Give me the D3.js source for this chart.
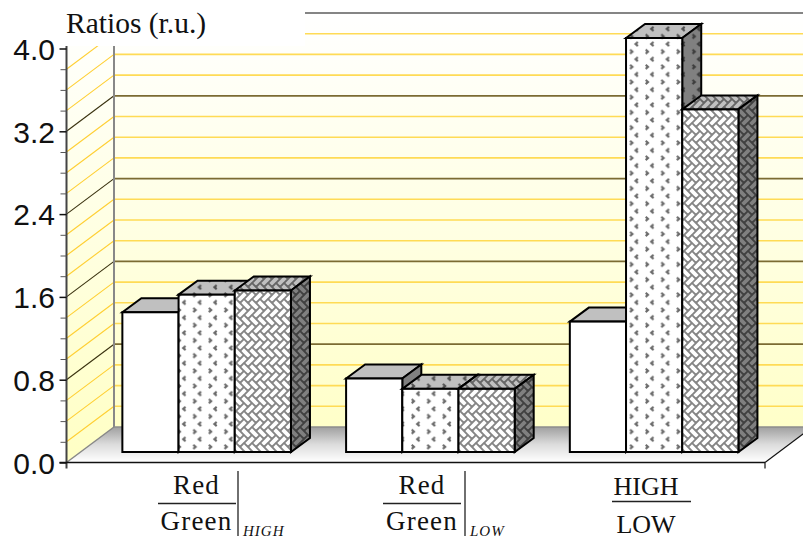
<!DOCTYPE html>
<html>
<head>
<meta charset="utf-8">
<script src="https://cdnjs.cloudflare.com/ajax/libs/d3/7.9.0/d3.min.js"></script>
<style>
html,body{margin:0;padding:0;background:#fff;overflow:hidden}
svg{display:block}
text{fill:#111}
.serif{font-family:"Liberation Serif","Times New Roman",serif}
.sans{font-family:"Liberation Sans",Arial,sans-serif}
</style>
</head>
<body>
<svg id="chart" width="803" height="538"></svg>
<script>
// Chart data
const groups = ["RedGreenHigh", "RedGreenLow", "HighLow"];
const seriesNames = ["plain", "dots", "weave"];
const plainValues = [1.35, 0.71, 1.26];
const dotValues = [1.52, 0.61, 4.0];
const weaveValues = [1.56, 0.61, 3.31];
const majorTicks = [0, 0.8, 1.6, 2.4, 3.2, 4.0];
const minorTicks = [0, 0.2, 0.4, 0.6, 0.8, 1.0, 1.2, 1.4, 1.6, 1.8, 2.0, 2.2, 2.4, 2.6, 2.8, 3.0, 3.2, 3.4, 3.6, 3.8, 4.0];
const seriesValues = [plainValues, dotValues, weaveValues];

const W = 803, H = 538;
const svg = d3.select("#chart");
const defs = svg.append("defs");

// Scales and the oblique projection of the 3D box
const y = d3.scaleLinear().domain([0, 4]).range([462.5, 48.5]);
const frontLeft = 66.5, frontRight = 765;
const depthX = 47.5, depthY = 35.5;
const barLift = 10.5, barDX = 19, barDY = 14;
const x0 = d3.scaleBand().domain(groups).range([94.8, 766]);
const x1 = d3.scaleBand().domain(seriesNames).range([0, 168.6]);
const inset = (x0.bandwidth() - x1.step() * 3) / 2;

// Gradients for walls and floor
const wallGrad = defs.append("linearGradient").attr("id", "wall")
  .attr("gradientUnits", "userSpaceOnUse")
  .attr("x1", 0).attr("x2", 0).attr("y1", 13).attr("y2", 462);
wallGrad.append("stop").attr("offset", 0).attr("stop-color", "#ffffff");
wallGrad.append("stop").attr("offset", 1).attr("stop-color", "#ffffc4");
const floorGrad = defs.append("linearGradient").attr("id", "floor")
  .attr("gradientUnits", "userSpaceOnUse")
  .attr("x1", 0).attr("x2", 0).attr("y1", 427).attr("y2", 462);
floorGrad.append("stop").attr("offset", 0).attr("stop-color", "#a0a0a0");
floorGrad.append("stop").attr("offset", 0.5).attr("stop-color", "#dcdcdc");
floorGrad.append("stop").attr("offset", 1).attr("stop-color", "#ffffff");

// Hatch fills: one tile per series, shaded for each visible face
function dotsTile(id, bg, ink) {
  const p = defs.append("pattern").attr("id", id).attr("patternUnits", "userSpaceOnUse")
    .attr("x", 178).attr("y", 330).attr("width", 15.6).attr("height", 15.2);
  p.append("rect").attr("width", 15.6).attr("height", 15.2).attr("fill", bg);
  p.append("path").attr("d", "M7.5 0.8 L5.2 2.8 L7.5 4.8 M15.3 8.4 L17.6 10.4 L15.3 12.4 M-0.3 8.4 L2 10.4 L-0.3 12.4")
    .attr("fill", "none").attr("stroke", ink).attr("stroke-width", 2.1);
}
// Herringbone of 2:1 bricks laid at 45 degrees, repeating as a rectangular tile
function weaveTile(id, bg, ink) {
  const tileH = 16, unit = tileH / (2 * Math.SQRT2), tileW = unit * Math.SQRT2;
  const project = ([a, b]) => [(a + b) * unit / Math.SQRT2, (b - a) * unit / Math.SQRT2];
  const hBrick = [[0, 0], [2, 0], [2, 1], [0, 1]];
  const vBrick = [[2, -1], [3, -1], [3, 1], [2, 1]];
  const line = d3.line();
  let d = "";
  for (let i = -6; i <= 6; i++) {
    for (let j = -4; j <= 4; j++) {
      const dx = i + 2 * j, dy = i - 2 * j;
      [hBrick, vBrick].forEach(brick => {
        d += line(brick.map(([a, b]) => project([a + dx, b + dy]))) + "Z";
      });
    }
  }
  const p = defs.append("pattern").attr("id", id).attr("patternUnits", "userSpaceOnUse")
    .attr("x", 236).attr("y", 331).attr("width", tileW).attr("height", tileH);
  p.append("rect").attr("width", tileW).attr("height", tileH).attr("fill", bg);
  p.append("path").attr("d", d).attr("fill", "none").attr("stroke", ink).attr("stroke-width", 1.9);
}
dotsTile("dotsFront", "#ffffff", "#6a6a6a");
dotsTile("dotsTop", "#c0c0c0", "#505050");
dotsTile("dotsSide", "#808080", "#3c3c3c");
weaveTile("weaveFront", "#ffffff", "#858585");
weaveTile("weaveTop", "#c0c0c0", "#666666");
weaveTile("weaveSide", "#808080", "#404040");

const faces = {
  plain: {front: "#ffffff", top: "#c0c0c0", side: "#808080"},
  dots: {front: "url(#dotsFront)", top: "url(#dotsTop)", side: "url(#dotsSide)"},
  weave: {front: "url(#weaveFront)", top: "url(#weaveTop)", side: "url(#weaveSide)"}
};

// Back wall, side wall, floor
const clipTop = 46;
svg.append("path").attr("fill", "url(#wall)")
  .attr("d", `M${frontLeft + depthX} ${y(0) - depthY}V${y(4) - depthY}H${W}V${y(0) - depthY}Z`);
svg.append("path").attr("fill", "url(#wall)")
  .attr("d", `M${frontLeft} ${y(0)}L${frontLeft + depthX} ${y(0) - depthY}V${clipTop}H${frontLeft}Z`);
svg.append("path").attr("fill", "url(#floor)")
  .attr("d", `M${frontLeft} ${y(0)}L${frontLeft + depthX} ${y(0) - depthY}H${frontRight + depthX}L${frontRight} ${y(0)}Z`);

// Grid lines on the back wall
const isMajor = v => majorTicks.some(m => Math.abs(m - v) < 1e-6);
svg.append("g").selectAll("line").data(minorTicks.filter(v => v > 0)).join("line")
  .attr("x1", frontLeft + depthX).attr("x2", W)
  .attr("y1", d => y(d) - depthY).attr("y2", d => y(d) - depthY)
  .attr("stroke", d => d === 4 ? "#858585" : isMajor(d) ? "#7b6b33" : "#ffdb55")
  .attr("stroke-width", d => isMajor(d) ? 1.8 : 1.6);

// White title block masks the upper-left part of the wall
svg.append("rect").attr("x", 0).attr("y", 0).attr("width", 305).attr("height", clipTop).attr("fill", "#fff");

// Grid lines on the side wall, cut at the top of the wall
svg.append("clipPath").attr("id", "sideClip").append("rect")
  .attr("x", frontLeft).attr("y", clipTop).attr("width", depthX).attr("height", 430);
svg.append("g").attr("clip-path", "url(#sideClip)").selectAll("line")
  .data(minorTicks.filter(v => v > 0 && v < 4)).join("line")
  .attr("x1", frontLeft).attr("x2", frontLeft + depthX)
  .attr("y1", d => y(d)).attr("y2", d => y(d) - depthY)
  .attr("stroke", d => isMajor(d) ? "#3a3210" : "#ffcf33")
  .attr("stroke-width", 1.1);

// Box edges
svg.append("line").attr("x1", frontLeft + depthX).attr("x2", frontLeft + depthX)
  .attr("y1", clipTop).attr("y2", y(0) - depthY).attr("stroke", "#888").attr("stroke-width", 2);
svg.append("line").attr("x1", frontLeft + depthX).attr("x2", W)
  .attr("y1", y(0) - depthY).attr("y2", y(0) - depthY).attr("stroke", "#8c8c8c").attr("stroke-width", 1.5);
svg.append("line").attr("x1", frontLeft).attr("x2", frontLeft + depthX)
  .attr("y1", y(0)).attr("y2", y(0) - depthY).attr("stroke", "#888").attr("stroke-width", 1.5);
svg.append("line").attr("x1", frontRight).attr("x2", frontRight + depthX)
  .attr("y1", y(0)).attr("y2", y(0) - depthY).attr("stroke", "#111").attr("stroke-width", 1.2);
svg.append("line").attr("x1", frontRight).attr("x2", frontRight)
  .attr("y1", y(0)).attr("y2", y(0) + 6).attr("stroke", "#111").attr("stroke-width", 1.2);

// Bars: front, top and side faces
const barLayer = svg.append("g").attr("stroke", "#000").attr("stroke-width", 2).attr("stroke-linejoin", "miter");
groups.forEach((g, gi) => {
  seriesNames.forEach((name, si) => {
    const v = seriesValues[si][gi];
    const left = x0(g) + inset + x1(name);
    const right = left + x1.bandwidth();
    const top = y(v) - barLift;
    const bottom = y(0) - barLift;
    const f = faces[name];
    barLayer.append("path").attr("fill", f.top)
      .attr("d", `M${left} ${top}L${left + barDX} ${top - barDY}H${right + barDX}L${right} ${top}Z`);
    barLayer.append("path").attr("fill", f.side)
      .attr("d", `M${right} ${top}L${right + barDX} ${top - barDY}V${bottom - barDY}L${right} ${bottom}Z`);
    barLayer.append("rect").attr("x", left).attr("y", top)
      .attr("width", right - left).attr("height", bottom - top).attr("fill", f.front);
  });
});

// Y axis: all ticks, then the labelled ones
const axisMinor = d3.axisLeft(y).tickValues(minorTicks.filter(v => !isMajor(v))).tickSize(6).tickFormat("");
const gMinor = svg.append("g").attr("transform", `translate(${frontLeft},0)`).call(axisMinor);
gMinor.select(".domain").attr("d", `M0 ${clipTop}V${y(0) + 6}`).attr("stroke", "#444").attr("stroke-width", 2);
gMinor.selectAll(".tick line").attr("stroke", "#555").attr("stroke-width", 1);

const axisMajor = d3.axisLeft(y).tickValues(majorTicks).tickSize(7).tickPadding(4.5).tickFormat(d3.format(".1f"));
const gMajor = svg.append("g").attr("transform", `translate(${frontLeft},0)`).call(axisMajor);
gMajor.select(".domain").remove();
gMajor.selectAll(".tick line").attr("stroke", "#111").attr("stroke-width", 1.5);
gMajor.selectAll(".tick text").attr("class", "sans").attr("font-size", 30).attr("fill", "#111").attr("dy", "0.36em");

// Front edge of the floor
svg.append("line").attr("x1", frontLeft - 7).attr("x2", frontRight)
  .attr("y1", y(0)).attr("y2", y(0)).attr("stroke", "#111").attr("stroke-width", 1.5);

// Axis title
svg.append("text").attr("class", "serif").attr("x", 66).attr("y", 32.5)
  .attr("font-size", 29.5).text("Ratios (r.u.)");

// Category labels drawn as fractions
const labelLayer = svg.append("g").attr("class", "serif");
function fraction(cx, lineX1, lineX2, lineY, num, numY, den, denY, size, spacing) {
  labelLayer.append("text").attr("x", cx).attr("y", numY).attr("text-anchor", "middle")
    .attr("font-size", size).attr("letter-spacing", spacing).text(num);
  labelLayer.append("text").attr("x", cx).attr("y", denY).attr("text-anchor", "middle")
    .attr("font-size", size).attr("letter-spacing", spacing).text(den);
  labelLayer.append("line").attr("x1", lineX1).attr("x2", lineX2).attr("y1", lineY).attr("y2", lineY)
    .attr("stroke", "#222").attr("stroke-width", 1.3);
}
function evalBar(x, sub) {
  labelLayer.append("line").attr("x1", x).attr("x2", x).attr("y1", 471).attr("y2", 536)
    .attr("stroke", "#222").attr("stroke-width", 1.3);
  labelLayer.append("text").attr("x", x + 5).attr("y", 536).attr("font-size", 15)
    .attr("font-style", "italic").attr("letter-spacing", 1).text(sub);
}
fraction(196.5, 158, 236, 503.5, "Red", 494, "Green", 530, 27, 1.2);
evalBar(238, "HIGH");
fraction(422, 383, 461, 503.5, "Red", 494, "Green", 530, 27, 1.2);
evalBar(465, "LOW");
fraction(646, 612, 691, 501.5, "HIGH", 495, "LOW", 532.5, 26, 0);
</script>
</body>
</html>
